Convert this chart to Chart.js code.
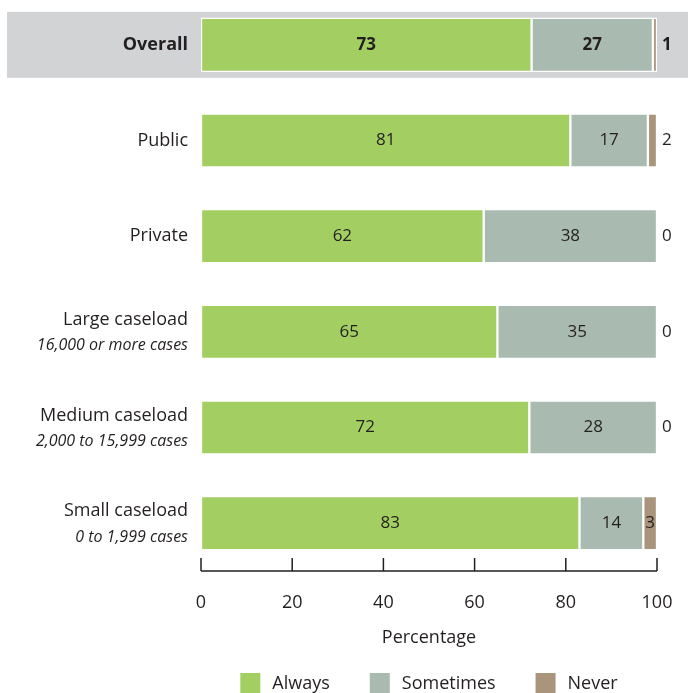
<!DOCTYPE html>
<html lang="en">
<head>
    <meta charset="UTF-8">
    <title>Frequency by caseload</title>
    <script src="https://cdn.jsdelivr.net/npm/chart.js@4.4.1/dist/chart.umd.min.js"></script>
    <style>
        html, body { margin: 0; padding: 0; background: #fff; overflow: hidden; }
        #wrap { position: relative; width: 688px; height: 693px; overflow: hidden; }
        #chart { position: absolute; left: 0; top: -3px; }
    </style>
</head>
<body>
    <div id="wrap">
        <canvas id="chart" width="688" height="712"></canvas>
    </div>
<script>
    const categories = ['Overall', 'Public', 'Private', 'Large caseload', 'Medium caseload', 'Small caseload']
    const subLabels = ['', '', '', '16,000 or more cases', '2,000 to 15,999 cases', '0 to 1,999 cases']
    const always = [72.5, 81, 62, 65, 72, 83]
    const sometimes = [26.6, 17, 38, 35, 28, 14]
    const never = [0.9, 2, 0, 0, 0, 3]
    const xTicks = [0, 20, 40, 60, 80, 100]
    const seriesNames = ['Always', 'Sometimes', 'Never']
    const seriesColors = ['#a3cf62', '#a9bbb0', '#a8957b']

    const ink = '#231f20'
    const font = '"Open Sans", "Noto Sans", sans-serif'

    // grey band behind the "Overall" row
    const bandPlugin = {
        id: 'band',
        beforeDraw(chart) {
            const ctx = chart.ctx
            const y = chart.scales.y.getPixelForValue(0)
            ctx.save()
            ctx.fillStyle = '#d1d3d4'
            ctx.fillRect(7, y - 33, chart.width - 7, 66)
            ctx.restore()
        }
    }

    // category labels with italic second line
    const catLabels = {
        id: 'catLabels',
        afterDraw(chart) {
            const ctx = chart.ctx
            const yScale = chart.scales.y
            ctx.save()
            ctx.fillStyle = ink
            ctx.textAlign = 'right'
            ctx.textBaseline = 'middle'
            categories.forEach((c, i) => {
                const y = yScale.getPixelForValue(i)
                ctx.font = (i === 0 ? 'bold ' : '') + '18px ' + font
                if (subLabels[i]) {
                    ctx.fillText(c, 188, y - 12)
                    ctx.font = 'italic 16px ' + font
                    ctx.fillText(subLabels[i], 188, y + 14)
                } else {
                    ctx.fillText(c, 188, y)
                }
            })
            ctx.restore()
        }
    }

    // value labels in / beside bars
    const valueLabels = {
        id: 'valueLabels',
        afterDatasetsDraw(chart) {
            const ctx = chart.ctx
            ctx.save()
            ctx.fillStyle = ink
            ctx.textBaseline = 'middle'
            chart.data.datasets.forEach((ds, d) => {
                chart.getDatasetMeta(d).data.forEach((bar, i) => {
                    const v = ds.data[i]
                    const txt = String(Math.round(v))
                    ctx.font = (i === 0 ? 'bold ' : '') + '17px ' + font
                    if (d === 2 && v < 3) {
                        ctx.textAlign = 'left'
                        ctx.fillText(txt, bar.x + 5, bar.y)
                    } else {
                        ctx.textAlign = 'center'
                        ctx.fillText(txt, (bar.x + bar.base) / 2, bar.y)
                    }
                })
            })
            ctx.restore()
        }
    }

    // x axis line with upward tick marks
    const axisPlugin = {
        id: 'axisLine',
        afterDraw(chart) {
            const ctx = chart.ctx
            const xs = chart.scales.x
            const y = chart.chartArea.bottom
            ctx.save()
            ctx.strokeStyle = ink
            ctx.lineWidth = 1.5
            ctx.beginPath()
            ctx.moveTo(xs.getPixelForValue(0), y)
            ctx.lineTo(xs.getPixelForValue(100), y)
            xTicks.forEach(t => {
                const x = xs.getPixelForValue(t)
                ctx.moveTo(x, y)
                ctx.lineTo(x, y - 13)
            })
            ctx.stroke()
            ctx.restore()
        }
    }

    // legend row under the axis title
    const legendPlugin = {
        id: 'legendRow',
        afterDraw(chart) {
            const ctx = chart.ctx
            const area = chart.chartArea
            ctx.save()
            ctx.font = '18px ' + font
            const box = 20, gapText = 12, gapItem = 40
            const widths = seriesNames.map(n => box + gapText + ctx.measureText(n).width)
            const total = widths.reduce((a, b) => a + b, 0) + gapItem * (widths.length - 1)
            let x = (area.left + area.right) / 2 - total / 2
            const yTop = chart.height - 36
            ctx.textBaseline = 'middle'
            ctx.textAlign = 'left'
            seriesNames.forEach((n, i) => {
                ctx.fillStyle = seriesColors[i]
                ctx.fillRect(x, yTop, box, box)
                ctx.fillStyle = ink
                ctx.fillText(n, x + box + gapText, yTop + box / 2 + 1)
                x += widths[i] + gapItem
            })
            ctx.restore()
        }
    }

    const barStyle = { borderColor: '#ffffff', borderWidth: 1.5, borderSkipped: false, barThickness: 54 }

    new Chart(document.getElementById('chart'), {
        type: 'bar',
        data: {
            labels: categories,
            datasets: seriesNames.map((n, i) => Object.assign({
                label: n,
                data: [always, sometimes, never][i],
                backgroundColor: seriesColors[i]
            }, barStyle))
        },
        options: {
            responsive: false,
            animation: false,
            indexAxis: 'y',
            layout: { padding: { left: 0, right: 31, top: 0, bottom: 52 } },
            plugins: {
                tooltip: { enabled: false },
                legend: { display: false }
            },
            scales: {
                x: {
                    stacked: true,
                    min: 0,
                    max: 100,
                    grid: { display: false, drawTicks: false },
                    border: { display: false },
                    ticks: {
                        stepSize: 20,
                        padding: 21,
                        color: ink,
                        font: { family: font, size: 18 }
                    },
                    title: {
                        display: true,
                        text: 'Percentage',
                        color: ink,
                        padding: { top: 0, bottom: 8 },
                        font: { family: font, size: 18 }
                    },
                    afterFit(scale) {
                        scale.height = 86
                        scale.paddingLeft = 0
                        scale.paddingRight = 0
                    }
                },
                y: {
                    stacked: true,
                    grid: { display: false, drawTicks: false },
                    border: { display: false },
                    ticks: { display: false },
                    afterFit(scale) { scale.width = 201 }
                }
            }
        },
        plugins: [bandPlugin, catLabels, valueLabels, axisPlugin, legendPlugin]
    })
</script>
</body>
</html>
